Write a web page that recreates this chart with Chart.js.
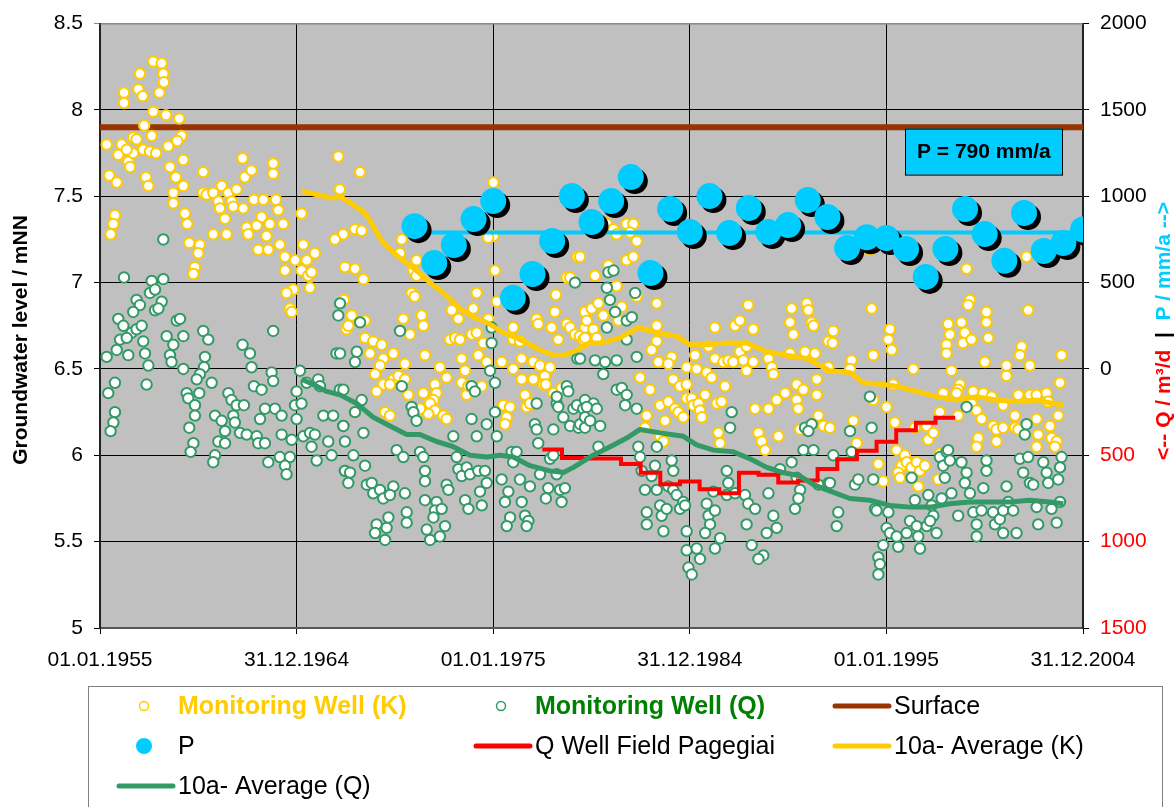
<!DOCTYPE html>
<html>
<head>
<meta charset="utf-8">
<title>Groundwater level</title>
<script src="https://cdn.jsdelivr.net/npm/chart.js@4.4.1/dist/chart.umd.min.js"></script>
<style>
  html, body { margin: 0; padding: 0; background: #fff; }
  canvas { display: block; }
</style>
</head>
<body>
<canvas id="gwChart" width="1176" height="807"></canvas>
<script>
// x axis: decimal years, labels as dd.mm.yyyy
const tickYears = [1955, 1965, 1975, 1985, 1995, 2005];
const tickLabels = ['01.01.1955', '31.12.1964', '01.01.1975', '31.12.1984', '01.01.1995', '31.12.2004'];

const surfaceLevel = 7.9;
const pMean = 790;

// monitoring well K  [year, mNN]
const wellK = [
  [1957.71,8.28],[1958.14,8.27],[1958.22,8.21],[1958.25,8.16],[1958.02,8.10],[1957.03,8.21],[1956.95,8.12],[1957.17,8.08],
  [1956.22,8.10],[1956.22,8.04],[1957.71,7.99],[1958.36,7.97],[1959.03,7.95],[1957.25,7.91],[1957.63,7.85],[1959.15,7.85],
  [1955.34,7.80],[1956.10,7.80],[1956.69,7.84],[1956.86,7.83],[1955.93,7.74],[1956.44,7.70],[1956.53,7.67],[1956.69,7.75],
  [1956.36,7.77],[1957.20,7.77],[1957.54,7.76],[1957.85,7.75],[1958.47,7.79],[1958.93,7.82],[1958.56,7.67],[1959.24,7.71],
  [1958.86,7.61],[1959.24,7.56],[1958.73,7.52],[1958.73,7.46],[1955.47,7.62],[1955.85,7.58],[1957.34,7.61],[1957.46,7.56],
  [1955.76,7.39],[1955.68,7.34],[1955.54,7.28],[1959.32,7.40],[1959.44,7.34],[1959.54,7.23],[1960.08,7.22],[1960.00,7.17],
  [1959.83,7.09],[1959.75,7.05],[1960.25,7.64],[1960.25,7.52],[1960.42,7.51],[1960.76,7.52],[1961.19,7.56],[1961.02,7.47],
  [1961.10,7.43],[1961.36,7.37],[1961.53,7.52],[1961.70,7.47],[1961.95,7.54],[1961.78,7.44],[1962.29,7.43],[1962.25,7.72],
  [1962.37,7.61],[1962.71,7.65],[1960.76,7.28],[1961.44,7.28],[1962.46,7.32],[1962.54,7.28],[1962.83,7.48],[1963.31,7.48],
  [1963.22,7.38],[1962.97,7.33],[1963.64,7.34],[1963.47,7.27],[1963.81,7.69],[1963.81,7.63],[1963.95,7.48],[1964.07,7.42],
  [1964.32,7.34],[1963.05,7.19],[1963.56,7.19],[1964.15,7.22],[1964.41,7.15],[1964.41,7.07],[1964.92,7.13],[1965.34,7.22],
  [1965.51,7.13],[1965.93,7.17],[1965.25,7.07],[1965.59,7.04],[1965.76,7.06],[1965.68,6.97],[1964.83,6.96],[1964.49,6.94],
  [1964.66,6.85],[1964.75,6.83],[1965.25,7.40],[1967.12,7.73],[1967.20,7.54],[1967.37,7.28],[1966.95,7.25],[1967.46,7.09],
  [1967.41,6.90],[1967.54,6.73],
  [1968.23,7.64],[1967.97,7.31],[1968.31,7.30],[1967.97,7.08],[1968.40,7.02],[1967.80,6.81],[1967.63,6.75],[1968.48,6.78],
  [1968.48,6.68],[1968.90,6.66],[1969.33,6.64],[1968.73,6.59],[1969.41,6.56],[1969.92,6.59],[1970.51,6.53],[1969.24,6.52],
  [1968.99,6.47],[1969.41,6.41],[1969.07,6.37],[1969.92,6.44],[1970.18,6.46],[1970.51,6.44],[1969.75,6.41],[1970.68,6.35],
  [1970.35,7.25],[1970.26,7.17],[1971.10,7.13],[1970.94,7.07],[1971.10,7.04],[1970.85,6.94],[1971.01,6.92],[1970.43,6.79],
  [1970.77,6.70],[1971.36,6.81],[1971.45,6.75],[1971.53,6.58],[1971.45,6.36],[1972.04,6.41],[1972.29,6.51],[1972.63,6.45],
  [1972.12,6.36],[1971.96,6.32],[1971.79,6.30],[1972.04,6.26],[1971.70,6.24],[1971.28,6.27],[1972.46,6.23],[1972.63,6.21],
  [1969.50,6.25],[1969.75,6.23],[1972.89,6.84],[1973.23,6.79],[1972.80,6.67],[1973.06,6.68],[1973.31,6.67],[1973.40,6.56],
  [1973.57,6.49],[1973.40,6.42],[1973.65,6.35],[1973.74,6.40],[1974.16,6.94],[1973.99,6.85],[1973.91,6.70],[1974.16,6.71],
  [1974.24,6.58],[1974.50,6.65],[1974.67,6.54],[1974.42,6.40],[1975.01,7.58],[1975.01,7.27],[1974.75,7.26],[1975.09,7.07],
  [1975.18,6.89],[1974.75,6.79],[1975.43,6.54],[1975.52,6.29],[1975.86,6.28],[1975.69,6.22],[1975.60,6.18],[1976.02,6.74],
  [1976.02,6.67],[1976.36,6.66],[1976.45,6.56],[1976.02,6.50],[1976.45,6.44],[1976.62,6.35],[1976.70,6.28],[1976.87,6.30],
  [1977.04,6.54],[1977.21,6.79],[1977.29,6.76],[1977.97,6.74],[1978.14,6.83],[1978.19,6.93],[1978.31,6.67],[1977.38,6.52],
  [1977.63,6.46],[1977.89,6.51],[1977.04,6.44],[1977.55,6.41],[1977.68,6.41],[1978.06,6.36],[1978.48,6.39],[1979.28,7.15],
  [1978.74,7.03],[1978.91,7.03],[1978.74,6.76],[1978.91,6.74],[1979.16,6.70],[1979.41,6.69],[1979.67,6.74],[1979.75,6.83],
  [1979.58,6.67],
  [1980.78,7.34],[1981.12,7.31],[1981.28,7.28],[1981.79,7.34],[1982.13,7.34],[1982.30,7.24],[1981.96,7.29],[1981.79,7.13],
  [1982.13,7.15],[1979.42,7.15],[1980.86,7.10],[1980.18,7.04],[1981.28,6.98],[1982.30,6.92],[1983.32,6.88],[1979.67,6.83],
  [1980.01,6.85],[1980.35,6.88],[1980.60,6.81],[1979.76,6.78],[1980.10,6.73],[1979.67,6.68],[1980.27,6.68],[1981.54,6.86],
  [1981.37,6.78],[1983.32,6.75],[1983.32,6.66],[1983.06,6.61],[1983.40,6.54],[1984.08,6.57],[1983.91,6.53],[1982.47,6.45],
  [1982.98,6.38],[1984.16,6.44],[1984.50,6.40],[1984.84,6.41],[1984.84,6.51],[1985.27,6.58],[1985.35,6.50],[1984.84,6.33],
  [1985.10,6.33],[1983.49,6.29],[1983.91,6.31],[1984.25,6.27],[1984.42,6.25],[1984.67,6.22],[1982.81,6.23],[1982.72,6.16],
  [1983.74,6.20],[1983.49,6.11],[1983.66,6.08],[1985.18,6.29],[1985.44,6.30],[1985.52,6.26],[1985.61,6.22],[1985.78,6.35],
  [1985.86,6.48],[1986.11,6.45],[1986.28,6.74],[1985.95,6.63],[1986.28,6.56],[1986.79,6.40],[1986.37,6.30],[1986.62,6.31],
  [1986.45,6.13],[1986.54,6.07],[1986.71,6.54],[1986.96,6.55],[1987.21,6.54],[1987.30,6.75],[1987.55,6.78],[1987.97,6.87],
  [1987.55,6.60],[1987.72,6.55],[1987.89,6.49],[1988.23,6.54],[1988.23,6.73],[1987.89,6.63],[1988.32,6.27],[1988.49,6.13],
  [1988.66,6.08],[1988.83,6.03],[1989.00,6.27],[1989.00,6.56],[1989.17,6.51],[1989.25,6.47],[1989.42,6.32],[1989.51,6.11],
  [1989.85,6.36],[1990.10,6.59],[1990.44,6.41],[1990.78,6.38],[1990.44,6.32],[1990.52,6.27],[1990.61,6.15],[1990.27,6.70],
  [1990.10,6.77],[1990.18,6.85],[1990.95,6.88],[1991.03,6.84],[1991.20,6.77],[1991.29,6.75],[1990.86,6.60],[1991.37,6.59],
  [1991.46,6.44],[1991.46,6.35],[1991.54,6.23],[1991.80,6.17],[1992.05,6.51],[1992.05,6.66],
  [1994.25,6.85],[1995.18,6.73],[1995.10,6.67],[1995.27,6.61],[1992.30,6.72],[1992.27,6.65],[1993.23,6.55],[1993.15,6.50],
  [1994.33,6.58],[1996.37,6.50],[1995.35,6.41],[1995.01,6.28],[1993.32,6.20],[1994.33,6.32],[1995.43,6.19],[1993.49,6.07],
  [1992.13,6.16],[1994.59,5.95],[1994.84,5.85],[1995.52,6.03],[1995.94,6.00],[1995.77,5.94],[1995.60,5.90],[1995.69,5.87],
  [1996.03,5.96],[1996.28,5.93],[1996.54,5.96],[1996.71,5.91],[1996.96,5.94],[1996.62,5.82],[1996.45,6.16],[1997.05,6.17],
  [1997.13,6.09],[1997.39,6.13],[1997.72,6.25],[1997.89,6.36],[1997.72,6.01],[1997.64,5.86],[1998.14,6.76],[1998.23,6.70],
  [1998.06,6.64],[1998.06,6.59],[1998.82,6.77],[1998.99,6.71],[1998.90,6.65],[1999.33,6.67],[1998.31,6.49],[1998.74,6.41],
  [1998.65,6.38],[1998.57,6.36],[1998.65,6.23],[1999.25,6.90],[1999.16,6.87],[2000.09,6.83],[2000.09,6.77],[2000.18,6.68],
  [2000.01,6.54],[1999.41,6.37],[1999.93,6.36],[1999.33,6.30],[1999.59,6.26],[1999.84,6.21],[1999.67,6.10],[1999.59,6.05],
  [2000.35,6.34],[2000.43,6.17],[2000.60,6.15],[2000.60,6.08],[2000.94,6.16],[2000.94,6.29],[2001.54,6.23],[2001.71,6.35],
  [2001.11,6.46],[2001.11,6.52],[2001.88,6.63],[2001.79,6.58],[2002.30,6.52],[2002.21,6.84],[2002.13,7.15],[1999.08,7.08],
  [2001.54,6.16],[2001.71,6.15],[2002.30,6.35],[2002.64,6.35],[2003.15,6.36],[2003.23,6.31],[2002.64,6.21],[2002.72,6.12],
  [2002.64,6.05],[2003.32,6.17],[2003.40,6.10],[2003.66,6.08],[2003.57,6.05],[2003.74,6.23],[2003.83,6.42],[2003.91,6.58],
  [1994.16,7.19]
];

// monitoring well Q  [year, mNN]
const wellQ = [
  [1958.22,7.25],[1956.22,7.03],[1957.63,7.01],[1958.22,7.02],[1957.54,6.94],[1957.80,6.96],[1958.14,6.89],[1956.86,6.90],
  [1957.03,6.87],[1956.69,6.83],[1957.80,6.84],[1957.97,6.85],[1955.93,6.79],[1956.19,6.75],[1956.61,6.71],[1956.86,6.73],
  [1957.12,6.75],[1956.02,6.67],[1956.36,6.68],[1957.20,6.66],[1955.85,6.61],[1955.34,6.57],[1956.44,6.58],[1957.29,6.59],
  [1957.46,6.52],[1955.76,6.42],[1955.42,6.36],[1957.37,6.41],[1955.76,6.25],[1955.68,6.19],[1955.54,6.14],[1958.90,6.78],
  [1959.07,6.79],[1958.39,6.69],[1958.73,6.64],[1959.24,6.69],[1958.56,6.58],[1958.64,6.54],[1959.24,6.50],[1959.41,6.36],
  [1959.49,6.33],[1960.05,6.36],[1959.83,6.29],[1959.83,6.23],[1959.54,6.16],[1959.75,6.07],[1959.61,6.02],[1960.25,6.72],
  [1960.51,6.67],[1960.34,6.57],[1960.29,6.51],[1960.08,6.47],[1959.92,6.44],[1960.68,6.42],[1960.85,6.23],[1961.19,6.20],
  [1961.36,6.14],[1961.02,6.08],[1961.36,6.07],[1960.85,6.00],[1960.76,5.96],[1961.53,6.36],[1961.69,6.32],[1961.95,6.29],
  [1962.32,6.29],[1961.78,6.23],[1961.86,6.19],[1962.12,6.13],[1962.46,6.12],[1962.25,6.64],[1962.63,6.59],[1962.71,6.51],
  [1962.83,6.40],[1963.22,6.38],[1962.97,6.11],[1963.05,6.07],[1963.39,6.07],[1963.14,6.21],[1963.39,6.27],[1963.90,6.27],
  [1964.24,6.23],[1963.81,6.72],[1963.73,6.48],[1963.81,6.43],[1964.24,6.12],[1964.75,6.09],[1963.56,5.96],[1964.15,5.99],
  [1964.66,5.99],[1964.41,5.94],[1964.49,5.89],[1965.00,6.21],[1964.92,6.29],[1965.25,6.30],[1965.00,6.37],[1965.17,6.49],
  [1965.51,6.42],[1966.10,6.44],[1966.19,6.40],[1965.34,6.11],[1965.68,6.13],[1965.93,6.12],[1965.76,6.05],[1966.02,5.97],
  [1966.36,6.23],[1966.86,6.23],[1966.61,6.08],[1966.78,6.00],[1967.12,6.81],[1967.03,6.59],[1967.20,6.38],[1967.37,6.17],
  [1967.46,5.91],
  [1967.21,6.88],[1968.23,6.77],[1970.26,6.72],[1968.06,6.60],[1967.97,6.54],[1967.21,6.59],[1970.35,6.40],[1967.38,6.38],
  [1968.31,6.32],[1967.97,6.25],[1967.38,6.17],[1967.46,6.08],[1968.40,6.13],[1967.89,6.00],[1968.48,5.94],[1967.46,5.91],
  [1967.72,5.90],[1967.63,5.84],[1968.57,5.83],[1968.82,5.84],[1968.90,5.78],[1969.24,5.80],[1969.41,5.75],[1969.92,5.82],
  [1969.75,5.77],[1970.51,5.78],[1970.60,5.67],[1970.60,5.61],[1969.67,5.64],[1969.58,5.58],[1969.07,5.60],[1968.99,5.55],
  [1969.50,5.51],[1970.09,6.03],[1970.43,5.99],[1970.85,6.28],[1970.94,6.25],[1971.10,6.20],[1971.28,6.02],[1971.45,5.99],
  [1971.53,5.91],[1971.53,5.85],[1971.53,5.74],[1972.12,5.73],[1972.04,5.68],[1971.96,5.64],[1972.38,5.69],[1971.62,5.57],
  [1971.79,5.51],[1972.29,5.53],[1972.55,5.59],[1972.97,6.11],[1973.14,5.99],[1973.23,5.92],[1973.40,5.88],[1972.63,5.83],
  [1972.72,5.80],[1973.65,5.93],[1973.82,5.89],[1973.57,5.74],[1973.74,5.69],[1973.90,6.21],[1973.90,6.40],[1974.07,6.37],
  [1974.16,6.11],[1974.24,5.91],[1974.33,5.79],[1974.42,5.71],[1974.58,5.91],[1974.67,5.84],[1974.67,6.18],[1974.92,6.74],
  [1974.92,6.65],[1974.84,6.49],[1975.09,6.42],[1975.09,6.25],[1975.18,6.11],[1975.43,5.86],[1975.60,5.73],[1975.86,5.64],
  [1975.69,5.59],[1975.77,5.79],[1975.94,6.02],[1976.19,6.02],[1976.02,5.96],[1976.36,5.86],[1976.45,5.73],[1976.62,5.65],
  [1976.79,5.62],[1976.70,5.59],[1976.87,5.82],[1977.12,6.18],[1977.21,6.15],[1977.29,6.07],[1977.38,5.89],[1977.21,6.30],
  [1977.80,5.81],[1977.68,5.75],[1977.89,5.98],[1978.06,6.00],[1978.23,5.89],[1978.40,5.80],[1978.48,5.73],[1978.65,5.81],
  [1978.06,6.15],[1978.23,6.30],[1978.31,6.28],[1978.23,6.34],[1978.74,6.40],[1978.82,6.37],[1978.57,6.22],[1978.91,6.17],
  [1979.08,6.27],[1979.26,6.29],[1979.34,6.16],[1979.42,6.18],[1979.67,6.16],[1979.16,7.00],[1979.28,6.56],[1979.58,6.27],
  [1980.86,7.06],[1981.12,7.07],[1980.78,6.97],[1980.94,6.90],[1981.20,6.83],[1980.78,6.74],[1982.22,6.94],[1981.79,6.78],
  [1982.05,6.80],[1981.79,6.67],[1979.42,6.56],[1980.18,6.55],[1980.69,6.54],[1981.28,6.55],[1982.30,6.57],[1980.60,6.47],
  [1981.28,6.38],[1981.54,6.39],[1981.79,6.35],[1981.71,6.29],[1982.30,6.27],[1979.67,6.32],[1980.10,6.30],[1979.76,6.28],
  [1980.27,6.27],[1979.67,6.22],[1979.93,6.20],[1980.44,6.17],[1980.35,6.05],[1982.38,6.05],[1982.47,5.99],[1983.32,6.05],
  [1982.55,5.91],[1982.72,5.80],[1983.23,5.94],[1983.06,5.88],[1984.08,5.97],[1984.16,5.91],[1983.32,5.80],[1983.91,5.82],
  [1984.16,5.80],[1984.33,5.77],[1984.67,5.73],[1984.50,5.69],[1984.76,5.71],[1982.81,5.67],[1982.81,5.60],[1983.49,5.71],
  [1983.57,5.65],[1983.82,5.69],[1983.66,5.56],[1984.84,5.56],[1984.84,5.45],[1985.35,5.46],[1985.52,5.40],[1984.93,5.35],
  [1985.10,5.31],[1985.86,5.72],[1985.95,5.65],[1986.03,5.60],[1985.78,5.55],[1986.20,5.79],[1986.28,5.68],[1986.54,5.52],
  [1986.28,5.46],[1986.88,5.91],[1986.96,5.84],[1986.88,5.77],[1987.13,6.25],[1987.05,6.16],[1987.30,5.78],[1987.81,5.77],
  [1987.97,5.72],[1988.32,5.69],[1987.89,5.60],[1988.15,5.48],[1988.74,5.42],[1988.49,5.40],[1989.00,5.78],[1989.25,5.65],
  [1989.42,5.58],[1988.91,5.55],[1989.59,5.92],[1990.18,5.96],[1990.44,5.87],[1990.61,5.80],[1990.52,5.75],[1990.35,5.69],
  [1990.78,6.03],[1991.29,6.03],[1990.86,6.16],[1991.20,6.18],[1991.03,6.14],[1991.54,5.83],[1992.05,5.84],
  [1994.16,6.34],[1994.25,6.16],[1993.15,6.14],[1992.30,6.00],[1993.23,6.02],[1992.13,5.84],[1993.40,5.83],[1993.57,5.86],
  [1994.33,5.86],[1992.55,5.67],[1992.47,5.59],[1994.42,5.69],[1994.50,5.68],[1995.10,5.67],[1995.01,5.58],[1995.18,5.55],
  [1994.84,5.48],[1994.59,5.41],[1994.67,5.37],[1994.59,5.31],[1995.52,5.53],[1995.60,5.47],[1996.03,5.55],[1996.20,5.62],
  [1996.28,5.87],[1996.45,5.74],[1996.62,5.53],[1996.54,5.59],[1996.71,5.46],[1997.05,5.59],[1997.13,5.77],[1997.30,5.71],
  [1997.39,5.65],[1997.22,5.62],[1997.55,5.55],[1997.72,5.99],[1997.89,5.94],[1998.06,6.02],[1997.97,5.87],[1998.14,6.03],
  [1998.23,5.97],[1997.81,5.75],[1998.31,5.78],[1998.65,5.65],[1998.82,5.96],[1999.08,5.90],[1998.99,5.84],[1999.25,5.78],
  [1999.08,6.28],[1999.42,5.67],[1999.59,5.60],[1999.59,5.53],[1999.84,5.68],[1999.93,5.81],[2000.09,5.97],[2000.09,5.91],
  [2000.43,5.67],[2000.52,5.60],[2000.77,5.63],[2000.94,5.68],[2000.94,5.55],[2001.11,5.82],[2001.20,5.73],[2001.45,5.68],
  [2001.62,5.55],[2001.79,5.98],[2001.96,5.90],[2002.13,6.18],[2002.04,6.12],[2002.21,5.99],[2002.30,5.84],[2002.47,5.83],
  [2002.64,5.70],[2002.72,5.60],[2002.98,5.96],[2003.15,5.90],[2003.23,5.84],[2003.40,5.69],[2003.66,5.61],[2003.74,5.86],
  [2003.83,5.93],[2003.91,5.99],[2003.83,5.73]
];

// precipitation, mm/a
const pYears = [1971,1972,1973,1974,1975,1976,1977,1978,1979,1980,1981,1982,1983,1984,1985,1986,1987,1988,
                1989,1990,1991,1992,1993,1994,1995,1996,1997,1998,1999,2000,2001,2002,2003,2004,2005];
const pValues = [827,614,718,868,972,412,550,741,1001,851,972,1111,556,926,793,1001,787,932,
                 793,833,978,880,700,763,758,695,533,695,926,781,627,903,683,729,808];

// abstraction of the well field, m³/d (plotted negative)
const qwYears = [1978,1979,1980,1981,1982,1983,1984,1985,1986,1987,1988,1989,1990,1991,1992,1993,1994,1995,1996,1997,1998];
const qwValues = [-467,-515,-518,-518,-550,-601,-668,-652,-697,-719,-601,-612,-657,-646,-579,-523,-474,-422,-355,-311,-282];

// 10 year running means
const avgK = [
  [1965.25,7.53],[1966.0,7.51],[1966.8,7.49],[1967.21,7.50],[1967.89,7.45],[1968.4,7.41],[1968.74,7.36],[1969.07,7.29],
  [1969.41,7.23],[1970.18,7.15],[1971.1,7.07],[1971.79,7.0],[1972.46,6.94],[1973.31,6.85],[1973.99,6.80],[1974.67,6.77],
  [1975.52,6.71],[1976.19,6.68],[1976.7,6.65],[1977.38,6.61],[1978.06,6.58],[1978.57,6.58],[1979.08,6.60],[1979.92,6.65],
  [1980.44,6.65],[1981.45,6.68],[1982.38,6.74],[1983.32,6.71],[1984.33,6.69],[1985.01,6.64],[1985.86,6.64],[1986.88,6.65],
  [1987.89,6.65],[1988.91,6.60],[1989.93,6.58],[1990.95,6.56],[1991.63,6.52],[1992.13,6.49],[1993.15,6.48],[1993.83,6.42],
  [1994.84,6.41],[1995.52,6.40],[1996.54,6.37],[1997.55,6.34],[1998.57,6.32],[1999.59,6.34],[2000.6,6.32],[2001.62,6.31],
  [2002.64,6.32],[2003.49,6.30],[2004.0,6.29]
];
const avgQ = [
  [1965.25,6.44],[1965.85,6.41],[1966.53,6.37],[1967.21,6.35],[1968.06,6.30],[1968.9,6.22],[1969.75,6.17],[1970.6,6.12],
  [1971.28,6.12],[1972.12,6.08],[1972.97,6.05],[1973.82,6.0],[1974.67,5.99],[1975.35,6.0],[1976.02,5.99],[1976.87,5.94],
  [1977.89,5.91],[1978.57,5.90],[1979.08,5.93],[1979.92,5.99],[1980.27,6.01],[1981.12,6.06],[1981.79,6.10],[1982.47,6.15],
  [1983.49,6.13],[1984.67,6.11],[1985.35,6.06],[1986.2,6.03],[1987.21,6.02],[1988.06,5.98],[1988.91,5.93],[1989.76,5.90],
  [1990.61,5.88],[1991.29,5.83],[1991.97,5.80],[1993.15,5.75],[1994.16,5.74],[1995.18,5.71],[1996.2,5.70],[1997.22,5.70],
  [1998.23,5.72],[1999.25,5.73],[2000.26,5.73],[2001.28,5.73],[2002.3,5.74],[2003.32,5.73],[2004.0,5.72]
];

const FONT = '"Liberation Sans", Arial, sans-serif';
const YELLOW = '#FFCC00', GREEN = '#339966', CYAN = '#00CCFF', RED = '#FF0000', BROWN = '#993300';

const toXY = arr => arr.map(([x, y]) => ({ x, y }));

// step line: each annual value holds from mid-year to mid-year
const qwPoints = qwYears.map((yr, i) => ({ x: yr - 0.5, y: qwValues[i] }));
qwPoints.push({ x: qwYears[qwYears.length - 1] + 0.5, y: qwValues[qwValues.length - 1] });

const legendItems = [
  { text: 'Monitoring Well (K)', kind: 'ring', color: YELLOW, bold: true, textColor: YELLOW, col: 0, row: 0 },
  { text: 'Monitoring Well (Q)', kind: 'ring', color: GREEN, bold: true, textColor: '#008000', col: 1, row: 0 },
  { text: 'Surface', kind: 'line', color: BROWN, col: 2, row: 0 },
  { text: 'P', kind: 'dot', color: CYAN, col: 0, row: 1 },
  { text: 'Q Well Field Pagegiai', kind: 'line', color: RED, col: 1, row: 1 },
  { text: '10a- Average (K)', kind: 'line', color: YELLOW, col: 2, row: 1 },
  { text: '10a- Average (Q)', kind: 'line', color: GREEN, col: 0, row: 2 }
];

const decorPlugin = {
  id: 'decor',
  beforeDraw(chart) {
    const { ctx, chartArea: a } = chart;
    ctx.save();
    ctx.fillStyle = '#C0C0C0';
    ctx.fillRect(a.left, a.top, a.right - a.left, a.bottom - a.top);
    ctx.restore();
  },
  beforeDatasetDraw(chart, args) {
    if (args.meta.label === 'P') {
      const ctx = chart.ctx;
      ctx.save();
      ctx.shadowColor = '#000';
      ctx.shadowOffsetX = 4;
      ctx.shadowOffsetY = 4;
      ctx.shadowBlur = 0;
    }
  },
  afterDatasetDraw(chart, args) {
    if (args.meta.label === 'P') chart.ctx.restore();
  },
  afterDraw(chart) {
    const { ctx, chartArea: a } = chart;
    ctx.save();

    // top frame line
    ctx.strokeStyle = '#8a8a8a';
    ctx.lineWidth = 1;
    ctx.beginPath();
    ctx.moveTo(a.left, a.top + 0.5);
    ctx.lineTo(a.right, a.top + 0.5);
    ctx.stroke();

    // mean precipitation box
    const bx = a.right - 178, by = a.top + 105, bw = 157, bh = 46;
    ctx.fillStyle = CYAN;
    ctx.fillRect(bx, by, bw, bh);
    ctx.strokeStyle = '#000';
    ctx.strokeRect(bx + 0.5, by + 0.5, bw, bh);
    ctx.fillStyle = '#000';
    ctx.font = 'bold 21px ' + FONT;
    ctx.textBaseline = 'middle';
    ctx.textAlign = 'left';
    ctx.fillText('P = ' + pMean + ' mm/a', bx + 12, by + bh / 2 + 1);

    // left axis title
    ctx.save();
    ctx.translate(21, 340);
    ctx.rotate(-Math.PI / 2);
    ctx.textAlign = 'center';
    ctx.font = 'bold 21px ' + FONT;
    ctx.fillStyle = '#000';
    ctx.fillText('Groundwater level / mNN', 0, 0);
    ctx.restore();

    // right axis title in three colours
    const parts = [['<-- Q / m³/d', RED], ['  |  ', '#000'], ['P / mm/a -->', CYAN]];
    ctx.save();
    ctx.font = 'bold 21px ' + FONT;
    const total = parts.reduce((s, p) => s + ctx.measureText(p[0]).width, 0);
    ctx.translate(1164, 331 + total / 2);
    ctx.rotate(-Math.PI / 2);
    ctx.textAlign = 'left';
    let off = 0;
    parts.forEach(([t, c]) => {
      ctx.fillStyle = c;
      ctx.fillText(t, off, 0);
      off += ctx.measureText(t).width;
    });
    ctx.restore();

    // legend
    ctx.strokeStyle = '#808080';
    ctx.lineWidth = 1;
    ctx.strokeRect(88.5, 686.5, 1074, 140);
    const colMark = [144, 501, 860];
    const colText = [178, 535, 894];
    const rowY = [706, 746, 786];
    legendItems.forEach(it => {
      const y = rowY[it.row];
      const mx = it.kind === 'line' ? colText[it.col] - 32 : colMark[it.col];
      if (it.kind === 'ring') {
        ctx.beginPath();
        ctx.arc(mx, y, 4.5, 0, Math.PI * 2);
        ctx.fillStyle = '#fff';
        ctx.fill();
        ctx.lineWidth = 1.5;
        ctx.strokeStyle = it.color;
        ctx.stroke();
      } else if (it.kind === 'dot') {
        ctx.beginPath();
        ctx.arc(mx, y, 8, 0, Math.PI * 2);
        ctx.fillStyle = it.color;
        ctx.fill();
      } else {
        ctx.beginPath();
        ctx.moveTo(mx - 27, y);
        ctx.lineTo(mx + 27, y);
        ctx.lineWidth = 5;
        ctx.lineCap = 'round';
        ctx.strokeStyle = it.color;
        ctx.stroke();
      }
      ctx.font = (it.bold ? 'bold ' : '') + '25px ' + FONT;
      ctx.fillStyle = it.textColor || '#000';
      ctx.textAlign = 'left';
      ctx.textBaseline = 'middle';
      ctx.fillText(it.text, colText[it.col], y + 1);
    });
    ctx.restore();
  }
};

const ringPoint = (data, color, order) => ({
  label: color === YELLOW ? 'Monitoring Well (K)' : 'Monitoring Well (Q)',
  data: toXY(data),
  yAxisID: 'y',
  showLine: false,
  pointRadius: 5.2,
  pointBorderWidth: 2,
  pointBackgroundColor: '#fff',
  pointBorderColor: color,
  order
});

const lineSet = (label, data, color, width, axis, order, extra) => Object.assign({
  label,
  data,
  yAxisID: axis,
  showLine: true,
  borderColor: color,
  borderWidth: width,
  pointRadius: 0,
  fill: false,
  tension: 0,
  order
}, extra || {});

new Chart(document.getElementById('gwChart'), {
  type: 'scatter',
  data: {
    datasets: [
      lineSet('Surface', [{ x: tickYears[0], y: surfaceLevel }, { x: tickYears[tickYears.length - 1], y: surfaceLevel }],
              BROWN, 6, 'y', 9, { borderCapStyle: 'square' }),
      ringPoint(wellK, YELLOW, 8),
      ringPoint(wellQ, GREEN, 7),
      lineSet('Q Well Field Pagegiai', qwPoints, RED, 4, 'y2', 5, { stepped: true }),
      lineSet('10a- Average (Q)', toXY(avgQ), GREEN, 5, 'y', 4, { borderJoinStyle: 'round' }),
      lineSet('10a- Average (K)', toXY(avgK), YELLOW, 5, 'y', 3, { borderJoinStyle: 'round' }),
      lineSet('P mean', [{ x: pYears[0], y: pMean }, { x: pYears[pYears.length - 1], y: pMean }], CYAN, 4, 'y2', 2),
      {
        label: 'P',
        data: pYears.map((yr, i) => ({ x: yr, y: pValues[i] })),
        yAxisID: 'y2',
        showLine: false,
        pointRadius: 13,
        pointBorderWidth: 0,
        pointBackgroundColor: CYAN,
        pointBorderColor: CYAN,
        order: 1
      }
    ]
  },
  options: {
    responsive: false,
    animation: false,
    events: [],
    layout: { padding: { top: 22, left: 0, right: 0, bottom: 0 } },
    plugins: { legend: { display: false }, tooltip: { enabled: false } },
    scales: {
      x: {
        type: 'linear',
        position: 'bottom',
        min: tickYears[0],
        max: tickYears[tickYears.length - 1],
        afterFit: s => { s.height = 179; },
        ticks: {
          stepSize: 10,
          autoSkip: false,
          maxRotation: 0,
          padding: 14,
          color: '#000',
          font: { family: FONT, size: 21 },
          callback: v => {
            const i = tickYears.indexOf(v);
            return i >= 0 ? tickLabels[i] : '';
          }
        },
        grid: { color: '#000', lineWidth: 1, tickLength: 6 },
        border: { color: '#555', width: 2 }
      },
      y: {
        position: 'left',
        min: 5,
        max: 8.5,
        afterFit: s => { s.width = 100; },
        ticks: {
          stepSize: 0.5,
          padding: 11,
          color: '#000',
          font: { family: FONT, size: 21 },
          callback: v => String(v)
        },
        grid: {
          color: ctx => (ctx.tick && ctx.tick.value === 8.5 ? '#8a8a8a' : '#000'),
          lineWidth: 1,
          tickLength: 6
        },
        border: { color: '#222', width: 2 }
      },
      y2: {
        position: 'right',
        min: -1500,
        max: 2000,
        afterFit: s => { s.width = 93; },
        ticks: {
          stepSize: 500,
          padding: 11,
          font: { family: FONT, size: 21 },
          color: ctx => (ctx.tick && ctx.tick.value < 0 ? RED : '#000'),
          callback: v => String(Math.abs(v))
        },
        grid: { drawOnChartArea: false, color: '#000', tickLength: 6 },
        border: { color: '#222', width: 2 }
      }
    }
  },
  plugins: [decorPlugin]
});
</script>
</body>
</html>
